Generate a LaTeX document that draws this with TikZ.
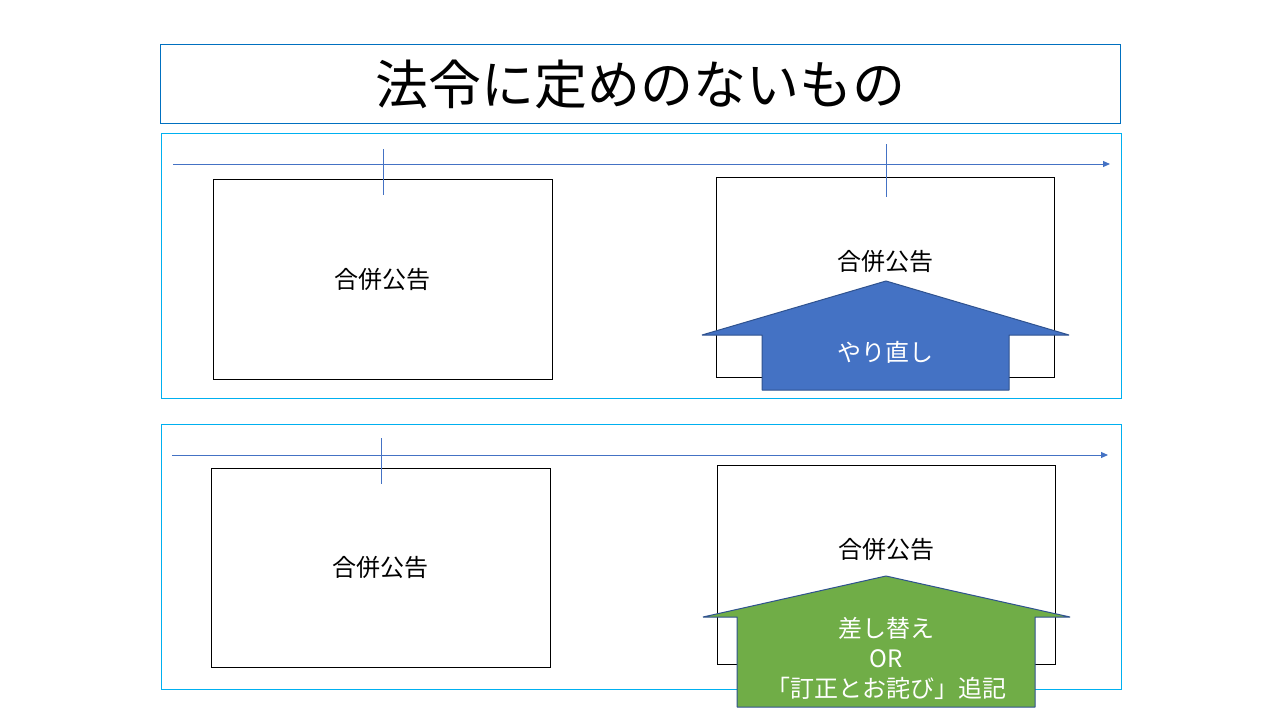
\documentclass[tikz,border=0pt]{standalone}
\usepackage{fontspec}
\setmainfont{Noto Sans CJK JP}
\usetikzlibrary{arrows.meta}
\definecolor{titleblue}{RGB}{0,112,192}
\definecolor{panelblue}{RGB}{0,176,240}
\definecolor{lineblue}{RGB}{68,114,196}
\definecolor{arrowedge}{RGB}{47,82,143}
\definecolor{greenfill}{RGB}{112,173,71}
\begin{document}
\begin{tikzpicture}[x=1pt,y=-1pt,
  panel/.style={draw=panelblue,line width=1pt,anchor=north west,inner sep=0pt},
  titlebox/.style={draw=titleblue,line width=1pt,anchor=north west,inner sep=0pt},
  docbox/.style={draw=black,line width=1pt,anchor=north west,inner sep=0pt},
  timeline/.style={draw=lineblue,line width=1pt,-{Triangle[length=7pt,width=6pt]}},
  tick/.style={draw=lineblue,line width=1pt},
  doctext/.style={font=\fontsize{24}{28}\selectfont,text=black},
  arrowtext/.style={font=\fontsize{24}{30}\selectfont,text=white,align=center},
  bigarrowblue/.style={fill=lineblue,draw=arrowedge,line width=1pt,line join=bevel},
  bigarrowgreen/.style={fill=greenfill,draw=arrowedge,line width=1pt,line join=bevel}]
\useasboundingbox (0,0) rectangle (1280,720);
\fill[white] (0,0) rectangle (1280,720);

% title
\node[titlebox,minimum width=960pt,minimum height=79pt] (title) at (160,44) {};
\node[font=\fontsize{53}{60}\selectfont] (titletext) at (640,84) {法令に定めのないもの};

% panel 1
\node[panel,minimum width=960pt,minimum height=265pt] (p1) at (161,133) {};
\coordinate (t1s) at (173,164);
\coordinate (t1e) at (1110,164);
\draw[timeline] (t1s) -- (t1e);
\node[docbox,minimum width=339pt,minimum height=200pt] (a1) at (213,179) {};
\node[docbox,minimum width=338pt,minimum height=200pt] (b1) at (716,177) {};
\coordinate (k1a) at (383,149);
\coordinate (k1b) at (383,195);
\coordinate (k2a) at (886,144);
\coordinate (k2b) at (886,197);
\draw[tick] (k1a) -- (k1b);
\draw[tick] (k2a) -- (k2b);
\node[doctext] (a1t) at (382,279) {合併公告};
\node[doctext] (b1t) at (885,261) {合併公告};
\path[bigarrowblue] (886,281) -- (1069,335) -- (1009,335) -- (1009,390) -- (762,390) -- (762,335) -- (702,335) -- cycle;
\node[arrowtext] (redo) at (885,352) {やり直し};

% panel 2
\node[panel,minimum width=960pt,minimum height=265pt] (p2) at (161,424) {};
\coordinate (t2s) at (172,455);
\coordinate (t2e) at (1108,455);
\draw[timeline] (t2s) -- (t2e);
\node[docbox,minimum width=339pt,minimum height=199pt] (a2) at (211,468) {};
\node[docbox,minimum width=338pt,minimum height=199pt] (b2) at (717,465) {};
\coordinate (k3a) at (381,438);
\coordinate (k3b) at (381,484);
\draw[tick] (k3a) -- (k3b);
\node[doctext] (a2t) at (380,567) {合併公告};
\node[doctext] (b2t) at (886,549) {合併公告};
\path[bigarrowgreen] (886,576) -- (1070,617) -- (1035,617) -- (1035,707) -- (737,707) -- (737,617) -- (703,617) -- cycle;
\node[arrowtext] (fix) at (886,658) {差し替え\\OR\\「訂正とお詫び」追記};
\end{tikzpicture}
\end{document}
